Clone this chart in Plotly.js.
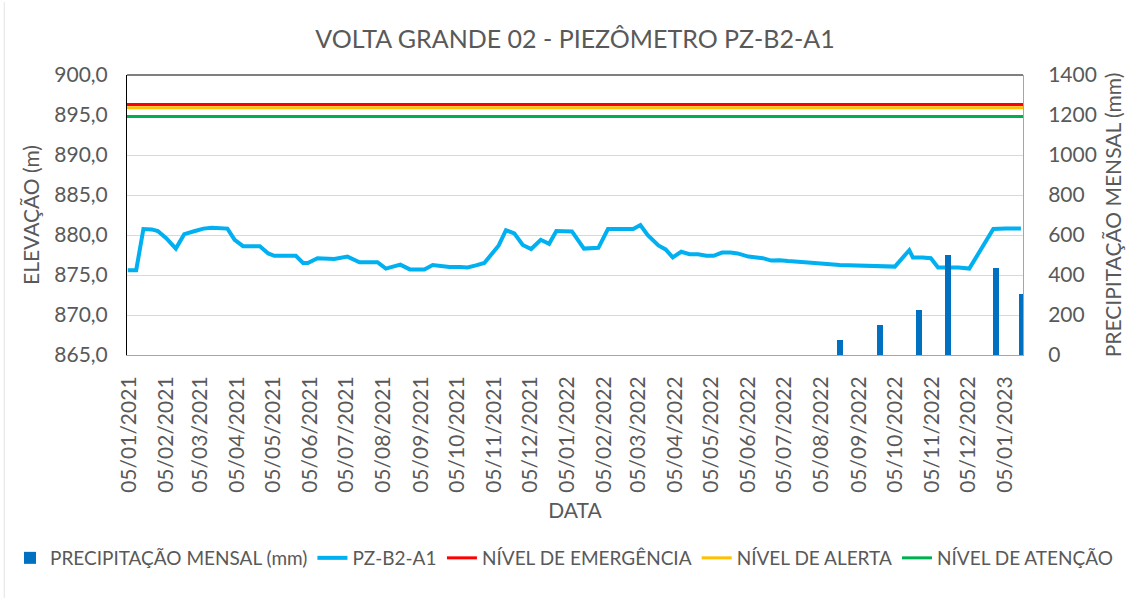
<!DOCTYPE html>
<html>
<head>
<meta charset="utf-8">
<script src="https://cdn.plot.ly/plotly-3.0.1.min.js"></script>
<style>html,body{margin:0;padding:0;background:#fff;}#chart{width:1132px;height:600px;}</style>
</head>
<body>
<div id="chart"></div>
<script>
// Piezometer readings (date, elevation m)
const pzDates = [
  '2021-01-04','2021-01-11','2021-01-17','2021-01-24','2021-01-29','2021-02-05','2021-02-13','2021-02-20',
  '2021-03-01','2021-03-08','2021-03-15','2021-03-22','2021-03-28','2021-04-03','2021-04-10','2021-04-17',
  '2021-04-24','2021-05-01','2021-05-06','2021-05-13','2021-05-24','2021-05-30','2021-06-03','2021-06-11',
  '2021-06-17','2021-06-25','2021-07-06','2021-07-16','2021-07-23','2021-07-31','2021-08-07','2021-08-13',
  '2021-08-19','2021-08-27','2021-09-03','2021-09-08','2021-09-15','2021-09-22','2021-09-29','2021-10-08',
  '2021-10-14','2021-10-21','2021-10-28','2021-11-03','2021-11-09','2021-11-15','2021-11-22','2021-11-29',
  '2021-12-06','2021-12-14','2021-12-21','2021-12-27','2022-01-02','2022-01-09','2022-01-19','2022-01-25',
  '2022-01-31','2022-02-08','2022-02-15','2022-02-22','2022-03-01','2022-03-07','2022-03-13','2022-03-22',
  '2022-03-28','2022-04-03','2022-04-10','2022-04-17','2022-04-24','2022-05-01','2022-05-07','2022-05-14',
  '2022-05-21','2022-05-27','2022-06-05','2022-06-12','2022-06-17','2022-06-24','2022-07-01','2022-07-08',
  '2022-07-15','2022-07-22','2022-08-20','2022-09-22','2022-10-05','2022-10-17','2022-10-20','2022-10-28',
  '2022-11-04','2022-11-10','2022-11-17','2022-11-27','2022-12-06','2022-12-26','2023-01-05','2023-01-18'
];
const pzValues = [
  875.6,875.6,880.75,880.7,880.5,879.6,878.3,880.1,
  880.5,880.8,880.9,880.8,880.8,879.4,878.6,878.6,
  878.6,877.7,877.4,877.4,877.4,876.5,876.5,877.1,
  877.1,877.0,877.3,876.6,876.6,876.6,875.8,876.0,
  876.3,875.7,875.7,875.7,876.25,876.1,876.0,876.0,
  875.95,876.2,876.5,877.6,878.7,880.6,880.2,878.75,
  878.25,879.4,878.9,880.5,880.5,880.45,878.3,878.3,
  878.4,880.75,880.8,880.75,880.75,881.25,880.0,878.7,
  878.2,877.2,877.9,877.6,877.6,877.4,877.4,877.8,
  877.8,877.7,877.3,877.2,877.1,876.8,876.85,876.75,
  876.7,876.6,876.25,876.05,876.05,878.1,877.2,877.2,
  877.1,875.95,875.95,875.95,875.8,880.75,880.8,880.8
];

// Monthly precipitation (mm)
const rainDates = ['2022-08-20','2022-09-23','2022-10-25','2022-11-18','2022-12-28','2023-01-19'];
const rainValues = [75, 150, 225, 500, 437, 305];

// Alarm levels (m)
const levelDates = ['2021-01-03 08:00','2023-01-19 18:00'];
const nivelEmergencia = 896.3;
const nivelAlerta = 895.9;
const nivelAtencao = 894.8;

const tickStart = '2021-01-05';
const txt = '#595959';
const FONT = 'Lato, "Open Sans", sans-serif';
const DAY = 86400000;

const traces = [
  {type:'bar', name:'PRECIPITAÇÃO MENSAL (mm)', x:rainDates, y:rainValues, yaxis:'y2', legend:'legend',
   width: rainDates.map(()=>5*DAY), marker:{color:'#0070C0'}},
  {type:'scatter', mode:'lines', name:'PZ-B2-A1', x:pzDates, y:pzValues, legend:'legend',
   line:{color:'#00B0F0', width:4}},
  {type:'scatter', mode:'lines', name:'NÍVEL DE EMERGÊNCIA', x:levelDates, y:levelDates.map(()=>nivelEmergencia), legend:'legend2',
   line:{color:'#FF0000', width:3}},
  {type:'scatter', mode:'lines', name:'NÍVEL DE ALERTA', x:levelDates, y:levelDates.map(()=>nivelAlerta), legend:'legend2',
   line:{color:'#FFC000', width:3}},
  {type:'scatter', mode:'lines', name:'NÍVEL DE ATENÇÃO', x:levelDates, y:levelDates.map(()=>nivelAtencao), legend:'legend2',
   line:{color:'#00B050', width:3}}
];

const legendFont = {size:19, color:txt, family:FONT};
const layout = {
  width:1132, height:600,
  margin:{l:127, r:109, t:75, b:245, autoexpand:false},
  paper_bgcolor:'#fff', plot_bgcolor:'#fff',
  separators:',.',
  font:{family:FONT, color:txt, size:21},
  title:{text:'VOLTA GRANDE 02 - PIEZÔMETRO PZ-B2-A1', font:{size:25, color:txt}, x:0.5, xref:'paper', y:0.935, yref:'container', yanchor:'middle'},
  showlegend:true,
  legend:{orientation:'h', x:-0.1306, xanchor:'left', y:-0.725, yanchor:'middle', font:legendFont, itemwidth:30, traceorder:'normal', borderwidth:0, bgcolor:'rgba(0,0,0,0)'},
  legend2:{orientation:'h', x:0.3515, xanchor:'left', y:-0.725, yanchor:'middle', font:legendFont, itemwidth:30, traceorder:'normal', borderwidth:0, bgcolor:'rgba(0,0,0,0)'},
  bargap:0,
  xaxis:{type:'date', range:[levelDates[0], levelDates[1]], tick0:tickStart, dtick:'M1', tickformat:'%d/%m/%Y',
    tickangle:-90, showgrid:false, showline:true, linecolor:'#A6A6A6', linewidth:1, ticks:'', ticklabelstandoff:12,
    title:{text:'DATA', font:{size:21, color:txt}, standoff:11}, zeroline:false},
  yaxis:{range:[865,900], dtick:5, tick0:865, tickformat:'.1f', showgrid:true, gridcolor:'#D9D9D9', gridwidth:1,
    showline:true, linecolor:'#000', linewidth:1, ticks:'', ticklabelstandoff:14, zeroline:false,
    title:{text:'ELEVAÇÃO (m)', font:{size:21, color:txt}, standoff:8}},
  yaxis2:{range:[0,1400], dtick:200, tick0:0, tickformat:'d', overlaying:'y', side:'right', showgrid:false,
    showline:true, linecolor:'#A6A6A6', linewidth:1, ticks:'', ticklabelstandoff:20, zeroline:false,
    title:{text:'PRECIPITAÇÃO MENSAL (mm)', font:{size:21, color:txt}, standoff:10}},
  shapes:[
    {type:'line', xref:'paper', yref:'paper', x0:0, x1:1, y0:1, y1:1, line:{color:'#000', width:1}},
    {type:'line', xref:'paper', yref:'paper', x0:-0.137, x1:-0.137, y0:-0.868, y1:1.26, line:{color:'#E3E3E3', width:1}, layer:'below'}
  ]
};

Plotly.newPlot('chart', traces, layout, {displayModeBar:false, staticPlot:true});
</script>
</body>
</html>
